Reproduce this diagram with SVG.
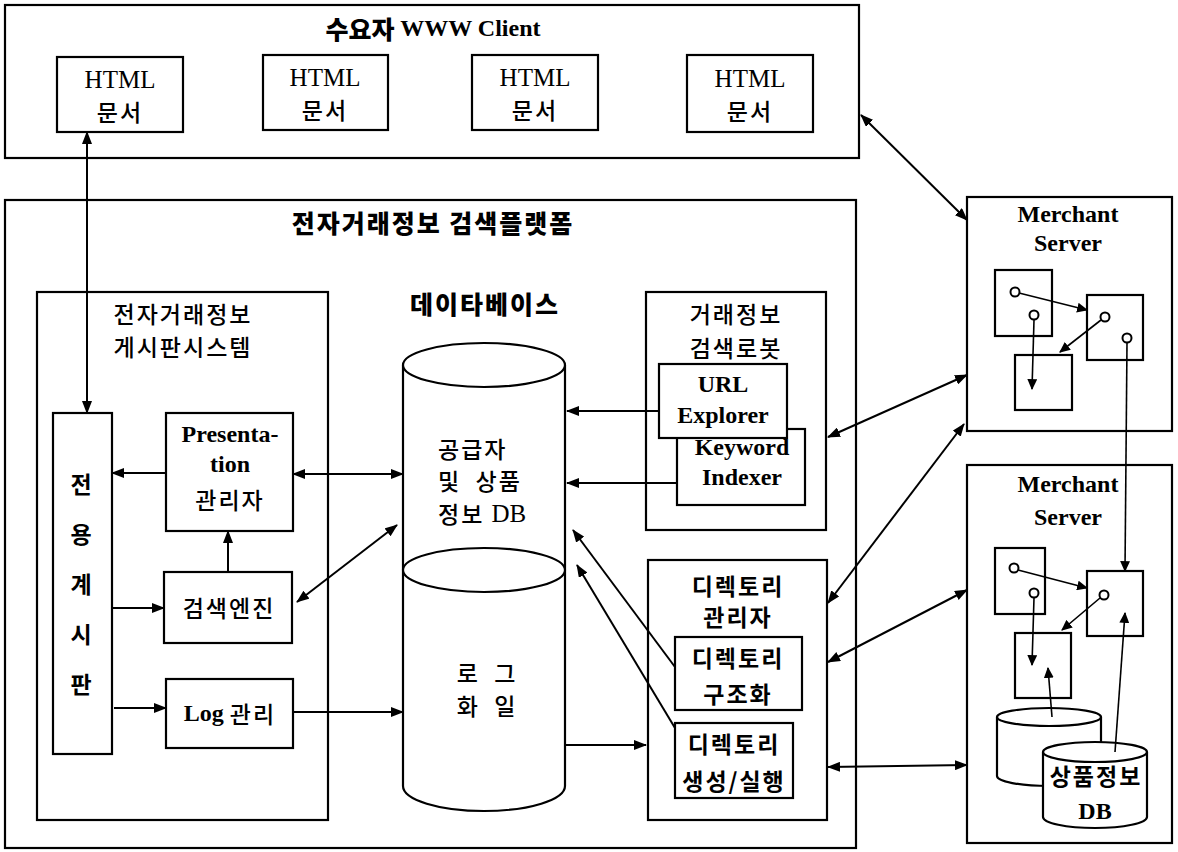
<svg xmlns="http://www.w3.org/2000/svg" width="1178" height="852" viewBox="0 0 1178 852">
  <style>
    .box { fill: #fff; stroke: #000; stroke-width: 2.2; }
    .ln { fill: none; stroke: #000; stroke-width: 2; }
    .thin { fill: none; stroke: #000; stroke-width: 1.6; }
    .t { font-family: 'Liberation Serif', 'Noto Sans CJK KR', serif; fill: #000; text-anchor: middle; dominant-baseline: central; }
    .ts { text-anchor: start; }
    .lat { font-size: 25px; }
    .latb { font-size: 24px; font-weight: bold; }
    .ko { font-family: 'Noto Sans CJK KR', sans-serif; font-size: 23px; font-weight: 500; letter-spacing: 2px; }
    .kob { font-family: 'Noto Sans CJK KR', sans-serif; font-size: 23px; font-weight: 700; letter-spacing: 2px; }
    .head { font-family: 'Noto Sans CJK KR', sans-serif; font-size: 25px; font-weight: 900; }
    .circ { fill: #fff; stroke: #000; stroke-width: 2; }
  </style>
  <defs>
    <marker id="ah" viewBox="0 0 13 10" refX="12" refY="5" markerWidth="13" markerHeight="10" markerUnits="userSpaceOnUse" orient="auto-start-reverse">
      <path d="M0,0 L13,5 L0,10 z" fill="#000"/>
    </marker>
    <marker id="sh" viewBox="0 0 10 9" refX="9" refY="4.5" markerWidth="11" markerHeight="10" markerUnits="userSpaceOnUse" orient="auto-start-reverse">
      <path d="M0,0 L10,4.5 L0,9 z" fill="#000"/>
    </marker>
  </defs>

  <!-- client side -->
  <g id="client">
    <rect class="box" x="5" y="5" width="854" height="153"/>
    <text class="t head" x="433" y="28"><tspan>수요자 </tspan><tspan font-family="'Liberation Serif', serif" font-weight="bold" font-size="24">WWW Client</tspan></text>
  </g>
  <g id="html1">
    <rect class="box" x="57" y="57" width="126" height="75"/>
    <text class="t lat" x="120" y="79">HTML</text>
    <text class="t ko" x="120" y="111">문서</text>
  </g>
  <g id="html2">
    <rect class="box" x="263" y="55" width="125" height="75"/>
    <text class="t lat" x="325" y="77">HTML</text>
    <text class="t ko" x="325" y="109">문서</text>
  </g>
  <g id="html3">
    <rect class="box" x="472" y="55" width="126" height="75"/>
    <text class="t lat" x="535" y="77">HTML</text>
    <text class="t ko" x="535" y="109">문서</text>
  </g>
  <g id="html4">
    <rect class="box" x="687" y="55" width="126" height="77"/>
    <text class="t lat" x="750" y="78">HTML</text>
    <text class="t ko" x="750" y="110">문서</text>
  </g>

  <!-- platform -->
  <g id="platform">
    <rect class="box" x="5" y="200" width="851" height="648"/>
    <text class="t head" x="433" y="222" font-size="26" letter-spacing="2">전자거래정보 검색플랫폼</text>
  </g>

  <g id="board-system">
    <rect class="box" x="37" y="292" width="291" height="528"/>
    <text class="t ko" x="183" y="313">전자거래정보</text>
    <text class="t ko" x="183" y="346">게시판시스템</text>
  </g>
  <g id="board">
    <rect class="box" x="53" y="413" width="59" height="341"/>
    <text class="t kob" x="82" y="483">전</text>
    <text class="t kob" x="82" y="533">용</text>
    <text class="t kob" x="82" y="583">계</text>
    <text class="t kob" x="82" y="633">시</text>
    <text class="t kob" x="82" y="683">판</text>
  </g>
  <g id="presentation">
    <rect class="box" x="166" y="413" width="127" height="118"/>
    <text class="t latb" x="230" y="434">Presenta-</text>
    <text class="t latb" x="230" y="464">tion</text>
    <text class="t ko" x="230" y="499">관리자</text>
  </g>
  <g id="search-engine">
    <rect class="box" x="164" y="572" width="128" height="71"/>
    <text class="t ko" x="229" y="607">검색엔진</text>
  </g>
  <g id="log-manager">
    <rect class="box" x="166" y="679" width="127" height="69"/>
    <text class="t" x="230" y="713" font-size="24"><tspan font-weight="bold">Log </tspan><tspan font-family="'Noto Sans CJK KR', sans-serif" font-size="23" font-weight="500" letter-spacing="2"> 관리</tspan></text>
  </g>

  <!-- database -->
  <g id="database">
    <text class="t head" x="485" y="303" letter-spacing="2">데이타베이스</text>
    <path class="box" d="M403,365 L403,786 A81,25 0 0 0 565,786 L565,365"/>
    <ellipse class="box" cx="484" cy="365" rx="81" ry="22"/>
    <ellipse class="box" cx="484" cy="570" rx="81" ry="22"/>
    <text class="t ko ts" x="438" y="448">공급자</text>
    <text class="t ko ts" x="438" y="480" xml:space="preserve">및  상품</text>
    <text class="t ko ts" x="438" y="513"><tspan>정보 </tspan><tspan font-family="'Liberation Serif', serif" font-size="25" letter-spacing="0">DB</tspan></text>
    <text class="t ko" x="487" y="672" xml:space="preserve">로  그</text>
    <text class="t ko" x="487" y="705" xml:space="preserve">화  일</text>
  </g>

  <!-- search robot -->
  <g id="robot">
    <rect class="box" x="646" y="292" width="180" height="238"/>
    <text class="t ko" x="736" y="313">거래정보</text>
    <text class="t ko" x="736" y="347">검색로봇</text>
  </g>
  <g id="keyword-indexer">
    <rect class="box" x="677" y="429" width="128" height="76"/>
    <text class="t latb" x="742" y="447">Keyword</text>
    <text class="t latb" x="742" y="477">Indexer</text>
  </g>
  <g id="url-explorer">
    <rect class="box" x="659" y="364" width="128" height="74"/>
    <text class="t latb" x="723" y="384">URL</text>
    <text class="t latb" x="723" y="415">Explorer</text>
  </g>

  <!-- directory manager -->
  <g id="directory">
    <rect class="box" x="648" y="560" width="179" height="260"/>
    <text class="t kob" x="738" y="585">디렉토리</text>
    <text class="t kob" x="738" y="616">관리자</text>
  </g>
  <g id="dir-structure">
    <rect class="box" x="675" y="637" width="127" height="73"/>
    <text class="t kob" x="738" y="657">디렉토리</text>
    <text class="t kob" x="738" y="693">구조화</text>
  </g>
  <g id="dir-create">
    <rect class="box" x="675" y="723" width="118" height="75"/>
    <text class="t kob" x="734" y="743">디렉토리</text>
    <text class="t kob" x="734" y="780" letter-spacing="0">생성/실행</text>
  </g>

  <!-- merchant server 1 -->
  <g id="merchant1">
    <rect class="box" x="967" y="197" width="205" height="234"/>
    <text class="t latb" x="1068" y="214">Merchant</text>
    <text class="t latb" x="1068" y="243">Server</text>
    <rect class="box" x="995" y="270" width="57" height="66"/>
    <rect class="box" x="1087" y="295" width="56" height="65"/>
    <rect class="box" x="1015" y="355" width="57" height="55"/>
    <line class="thin" x1="1019" y1="293" x2="1087" y2="310" marker-end="url(#sh)"/>
    <line class="thin" x1="1034" y1="320" x2="1032" y2="389" marker-end="url(#sh)"/>
    <line class="thin" x1="1101" y1="320" x2="1060" y2="352" marker-end="url(#sh)"/>
    <circle class="circ" cx="1015" cy="292" r="4.5"/>
    <circle class="circ" cx="1034" cy="315" r="4.5"/>
    <circle class="circ" cx="1105" cy="317" r="4.5"/>
    <circle class="circ" cx="1127" cy="338" r="4.5"/>
  </g>

  <!-- merchant server 2 -->
  <g id="merchant2">
    <rect class="box" x="967" y="465" width="205" height="378"/>
    <text class="t latb" x="1068" y="484">Merchant</text>
    <text class="t latb" x="1068" y="517">Server</text>
    <rect class="box" x="995" y="548" width="50" height="66"/>
    <rect class="box" x="1087" y="571" width="56" height="65"/>
    <rect class="box" x="1015" y="633" width="56" height="65"/>
    <line class="thin" x1="1018" y1="570" x2="1087" y2="588" marker-end="url(#sh)"/>
    <line class="thin" x1="1034" y1="598" x2="1032" y2="665" marker-end="url(#sh)"/>
    <line class="thin" x1="1100" y1="598" x2="1062" y2="630" marker-end="url(#sh)"/>
    <circle class="circ" cx="1014" cy="568" r="4.5"/>
    <circle class="circ" cx="1034" cy="593" r="4.5"/>
    <circle class="circ" cx="1104" cy="595" r="4.5"/>
    <!-- storage cylinders -->
    <path class="box" d="M997,717 L997,776 A52,10 0 0 0 1101,776 L1101,717"/>
    <ellipse class="box" cx="1049" cy="717" rx="52" ry="9"/>
    <path class="box" d="M1043,752 L1043,817 A52,11 0 0 0 1147,817 L1147,752"/>
    <ellipse class="box" cx="1095" cy="752" rx="52" ry="10"/>
    <text class="t kob" x="1096" y="775" font-size="21" letter-spacing="1">상품정보</text>
    <text class="t latb" x="1095" y="811" font-size="21">DB</text>
    <line class="thin" x1="1052" y1="717" x2="1048" y2="668" marker-end="url(#sh)"/>
    <line class="thin" x1="1115" y1="752" x2="1125" y2="613" marker-end="url(#sh)"/>
  </g>

  <!-- connectors -->
  <g id="connectors">
    <line class="ln" x1="87" y1="132" x2="87" y2="413" marker-start="url(#ah)" marker-end="url(#ah)"/>
    <line class="ln" x1="166" y1="473" x2="112" y2="473" marker-end="url(#ah)"/>
    <line class="ln" x1="228" y1="572" x2="228" y2="531" marker-end="url(#ah)"/>
    <line class="ln" x1="112" y1="608" x2="164" y2="608" marker-end="url(#ah)"/>
    <line class="ln" x1="114" y1="708" x2="166" y2="708" marker-end="url(#ah)"/>
    <line class="ln" x1="293" y1="474" x2="403" y2="474" marker-start="url(#ah)" marker-end="url(#ah)"/>
    <line class="ln" x1="297" y1="602" x2="397" y2="525" marker-start="url(#ah)" marker-end="url(#ah)"/>
    <line class="ln" x1="293" y1="712" x2="403" y2="712" marker-end="url(#ah)"/>
    <line class="ln" x1="659" y1="411" x2="567" y2="411" marker-end="url(#ah)"/>
    <line class="ln" x1="677" y1="483" x2="567" y2="483" marker-end="url(#ah)"/>
    <line class="ln" x1="675" y1="667" x2="573" y2="530" marker-end="url(#ah)"/>
    <line class="ln" x1="675" y1="728" x2="577" y2="565" marker-end="url(#ah)"/>
    <line class="ln" x1="565" y1="745" x2="646" y2="745" marker-end="url(#ah)"/>
    <line class="ln" x1="861" y1="115" x2="967" y2="220" marker-start="url(#ah)" marker-end="url(#ah)"/>
    <line class="ln" x1="828" y1="437" x2="967" y2="375" marker-start="url(#ah)" marker-end="url(#ah)"/>
    <line class="ln" x1="828" y1="603" x2="964" y2="424" marker-start="url(#ah)" marker-end="url(#ah)"/>
    <line class="ln" x1="828" y1="662" x2="967" y2="590" marker-start="url(#ah)" marker-end="url(#ah)"/>
    <line class="ln" x1="828" y1="767" x2="967" y2="765" marker-start="url(#ah)" marker-end="url(#ah)"/>
    <line class="thin" x1="1127" y1="343" x2="1125" y2="571" marker-end="url(#sh)"/>
  </g>
</svg>
